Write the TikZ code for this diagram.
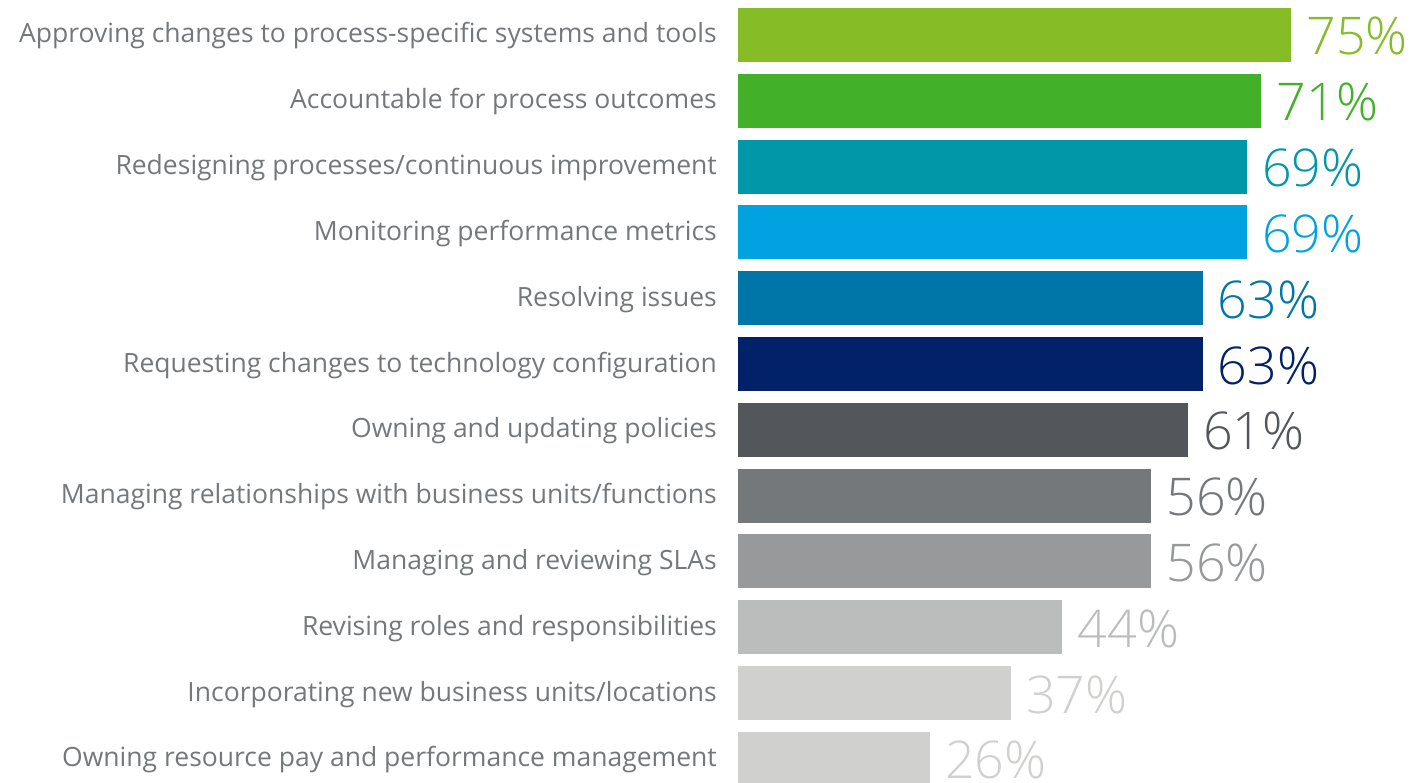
\documentclass[tikz,border=0pt]{standalone}
\usepackage{fontspec}
\setmainfont{Open Sans}
\newfontfamily\pctfont{Open Sans Light}
\usetikzlibrary{positioning}

\definecolor{barA}{HTML}{86BC25}
\definecolor{barB}{HTML}{43B02A}
\definecolor{barC}{HTML}{0097A9}
\definecolor{barD}{HTML}{00A3E0}
\definecolor{barE}{HTML}{0076A8}
\definecolor{barF}{HTML}{012169}
\definecolor{barG}{HTML}{53565A}
\definecolor{barH}{HTML}{75787B}
\definecolor{barI}{HTML}{97999B}
\definecolor{barJ}{HTML}{BBBCBC}
\definecolor{barK}{HTML}{D0D0CE}
\definecolor{labelgrey}{HTML}{75787B}

\tikzset{
	bar/.style={inner sep=0pt, minimum height=54pt, anchor=west},
	rowlabel/.style={anchor=base east, inner sep=0pt, text=labelgrey, font=\fontsize{26.5}{30}\selectfont},
	pct/.style={anchor=base west, inner sep=0pt, font=\pctfont\fontsize{52}{58}\selectfont},
}

\begin{document}
\begin{tikzpicture}[x=1pt, y=-1pt]
		\useasboundingbox (0,0) rectangle (1420,783);
		
		\foreach \i/\v/\c/\t in {
			1/75/barA/{Approving changes to process-specific systems and tools},
			2/71/barB/{Accountable for process outcomes},
			3/69/barC/{Redesigning processes/continuous improvement},
			4/69/barD/{Monitoring performance metrics},
			5/63/barE/{Resolving issues},
			6/63/barF/{Requesting changes to technology configuration},
			7/61/barG/{Owning and updating policies},
			8/56/barH/{Managing relationships with business units/functions},
			9/56/barI/{Managing and reviewing SLAs},
			10/44/barJ/{Revising roles and responsibilities},
			11/37/barK/{Incorporating new business units/locations},
			12/26/barK/{Owning resource pay and performance management}} {
			\coordinate (row\i) at (738, {35+65.8*(\i-1)});
			\node [bar, fill=\c, minimum width={\v*7.37pt}] (bar\i) at (row\i) {};
			\node [rowlabel] (label\i) at ([xshift=-21pt, yshift=-8pt]row\i) {\t};
			\node [pct, text=\c] (pct\i) at ([xshift=15pt, yshift=-20pt]bar\i.east) {\v\%};
		}
	\end{tikzpicture}
\end{document}
